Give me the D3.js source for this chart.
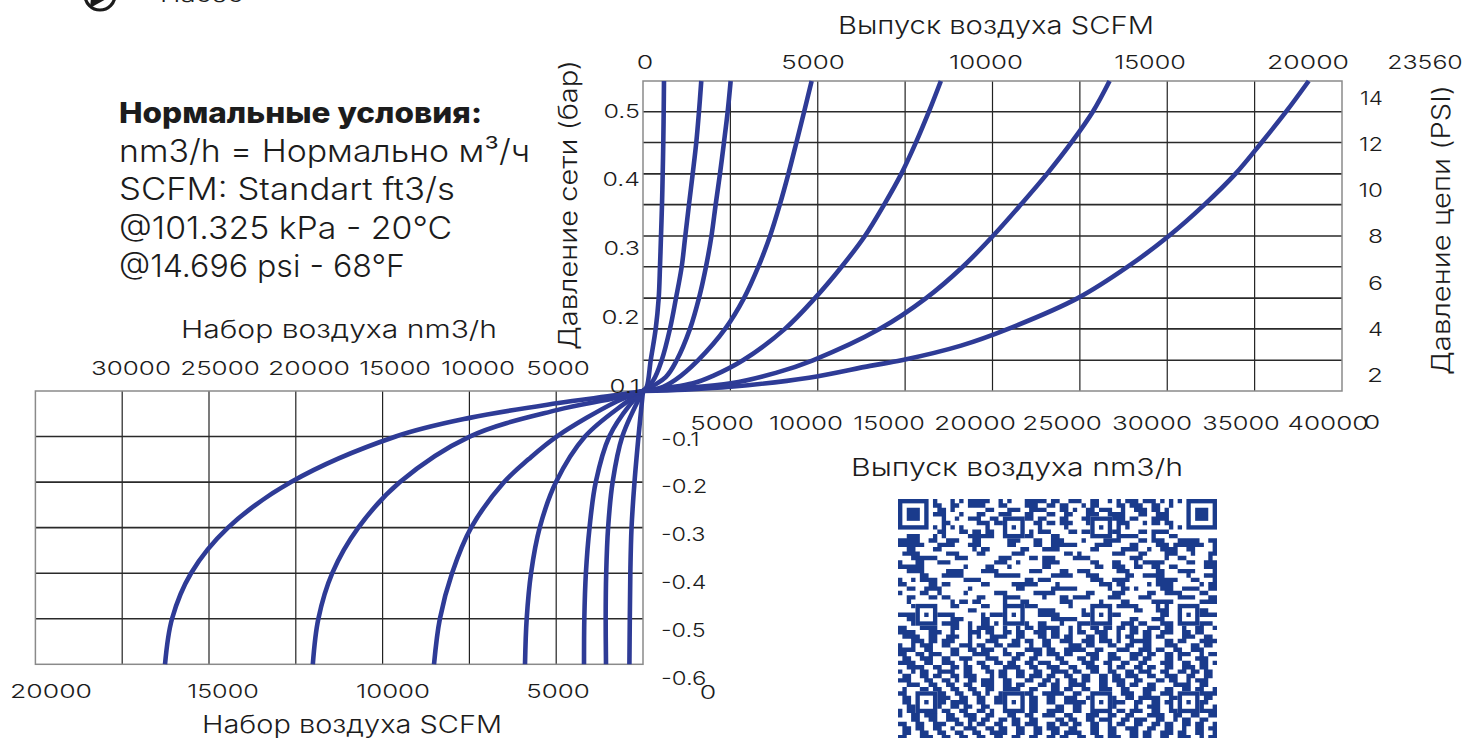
<!DOCTYPE html>
<html><head><meta charset="utf-8">
<script src="https://cdnjs.cloudflare.com/ajax/libs/d3/7.8.5/d3.min.js"></script>
<style>html,body{margin:0;padding:0;background:#fff;overflow:hidden}svg{display:block}text{font-family:Inter,"Noto Sans",sans-serif;font-weight:300;fill:#1c1c1c}</style>
</head><body><svg id="c" width="1462" height="738"></svg>
<script>
// ---- data ----
const outletLevels=[0.1,0.144,0.189,0.233,0.278,0.322,0.367,0.411,0.456,0.5,0.544];
const outletA=[0,440,726,898,972,1030,1087,1127,1161,1184,1201];
const outletB=[0,1070,1544,1888,2214,2420,2631,2843,3049,3203,3335];
const outletC=[0,1928,2688,3203,3604,3918,4158,4404,4633,4845,5016];
const outletD=[0,3146,4700,5780,6600,7270,7830,8320,8780,9220,9650];
const outletE=[0,5720,8122,9838,11366,12698,13800,14780,15620,16360,17046];
const outletF=[0,9724,13556,16200,18300,20020,21620,23120,24520,25740,26700];
const outletG=[0,14800,20900,24882,27742,30087,32130,33900,35400,36800,38095];
// extra readings between grid lines: [flow, bar]
const outletNear={A:[[200,0.105]],B:[[580,0.115]],C:[[1300,0.12]],D:[[940,0.104],[1850,0.116]],E:[[2860,0.111],[4035,0.122]],F:[[2170,0.104],[5016,0.111],[7600,0.126]],G:[[2400,0.102],[5016,0.106],[9500,0.119],[13000,0.136],[18200,0.165]]};
const inletLevels=[0,-0.1,-0.2,-0.3,-0.4,-0.5,-0.6];
const inletA=[0,260,490,660,730,760,783];
const inletB=[0,1192,1750,2010,2120,2150,2131];
const inletC=[0,1941,2720,3080,3290,3380,3398];
const inletD=[0,3341,5011,5950,6450,6700,6797];
const inletE=[0,4971,8000,9900,11000,11700,12038];
const inletF=[0,9982,14000,16400,17900,18700,19020];
const inletG=[0,14245,20275,23904,26035,27130,27533];
const inletNear={A:[],B:[],C:[[749,-0.03]],D:[[1152,-0.03]],E:[[1515,-0.023],[6600,-0.15]],F:[[1515,-0.015],[4971,-0.042]],G:[[1515,-0.009],[4971,-0.027],[9982,-0.059]]};
const curveNames=["A","B","C","D","E","F","G"];
const topScfmTicks=[0,5000,10000,15000,20000,23560];
const bottomNmTicks=[5000,10000,15000,20000,25000,30000,35000,40000];
const barPosTicks=[0.1,0.2,0.3,0.4,0.5];
const barNegTicks=[-0.1,-0.2,-0.3,-0.4,-0.5,-0.6];
const psiTicks=[0,2,4,6,8,10,12,14];
const inletNmTicks=[5000,10000,15000,20000,25000,30000];
const inletScfmTicks=[0,5000,10000,15000,20000];
const noteLines=["nm3/h = Нормально м³/ч","SCFM: Standart ft3/s","@101.325 kPa - 20°C","@14.696 psi - 68°F"];
const qrRows=[
"0000000010001010111110010100011111011001110011001010111011101010100000000",
"0000000011001100111100011000011100110110001011000011011100110010000000000",
"0000000001101000000011000111001111000110100110111001001110110100000000000",
"0000000011100010001100011100011000110011000111001111000110011100000000000",
"0000000000100100111001100110011011000110001100111111011000111100000000000",
"0000000000110000001110110000000110110111000110011011100010110110000000000",
"0000000010101010000010000010000010000010000010001010100000000010100000000",
"0000000001100011011011000000001011100001101101011110000110111100000000000",
"0011100010100000111111000011111000011000000011000011111000100011000000000",
"1111100110011100011000000111000110011100001000011110000110111000111110011",
"1111110001111000111000000110000110011111100001111000011000011101111111001",
"0011000011000000010110000000110001111000000011000001111001001111001100001",
"0111100000011100001100000011100000000011010000000111000110000111000100011",
"0001111110000111000000011100001101110000111100000000011100000100110000010",
"1000110001110000000000111001000001111000000011000110001011111000001100111",
"1111110000000001000011000100000001100000000001100111001100110011000000111",
"0011110000011110000111100000001110000110011100000011100000011000111100001",
"0000011000111110000000111111000000011111000111000000110011111000001000111",
"1001011110000001111000000000011011100000000011100111100000011111000110001",
"1100000110110000000110000011111100001000000000111011000001011110000001011",
"0011001111000000100000000001100000011111100000001001101000001110011110011",
"1000011001000001000000111000000111110000000110000111000001100111100001100",
"0011000110110000001100001111000001000110111100001110000111000000111100011",
"0010000000001011011000001000110000000111000000100001100000111110000001111",
"0001010000001100000110000001111100000001000000001011111000010100011100000",
"0000001110000000110000000110000011110000001011000000001100011100000111100",
"1111000011111000000101111000000011111000001100000110000000001100000001111",
"0011000000001110000110000111000000011111100000110000011000111000011000000",
"0001100110111100100110100001110011000100011100110001110110001110110001110",
"1100011110001100101111001001011011111001010011011011011001110110010011001",
"1111000111001000111011001101100111011001011001110010011011001110011011000",
"0111100110011100101001111001100011011011000110110010110011011000011100110",
"0001110110111000100011100011011001100111001110111010011111000110110001111",
"1001011100110011101100110111001001100001110110001100110011000111000110110",
"1111001100001100110111001000011110110011111001100011100111011001100111000",
"1100110111001100011110001101100110111011000111001100011101100110111001011",
"0110011100110011100011100011001100001100011011001110011011000110100011100",
"1111001100111001001100110110011011100110001110011001100110001110011001101",
"0011110011001101100110001111001100111001100111001011001101100110011101100",
"1001011001111001100011011001100110011110110011001100110111001100110110110",
"0110011011001101110001011001101110110011001100110110111001100111001100110",
"1110001100110100110111001100011001101001101100110111001100011011001011100",
"0011100110011001100111001101100011011001111000110011011001100001111001100",
"0100011011001100110011001111001100011011001100111001100011100110011011001",
"1100110011100110011010011011011001111100110001100001110011001110011001111",
"0110111001110011001100110111001100110011100111001100110111110011111000110",
"0110011001101111001100111000001100110011111000000111001100110110011001100",
"0011001011001101100110001111001100001100110011001100001001110010110011001",
"1011001100110011001101001110001100111100110001100011011100110011000001111",
"1001101110011001110011000110011001110011000111001100110001111001100110011",
"0001100110011100110110011011001100001101100110111001101110011001011001100",
"1100110011100110101100110011011100110110110011001011001100110110011011001",
"0110110011001001110011011001100110111001100011001100111001100110010011011",
"0110011001100110011001111001100110011011110011001100011011001110110011001",
"1100011100110011001100110011001100110110011001101110011011001100111001011"];
const qrAlign=[6,26,46,66];
const ink="#1c1c1c",curveColor="#2e3b96",qrColor="#1a3b8c";

// ---- scales ----
const xOut=d3.scaleLinear().domain([0,40000]).range([643,1342]);
const yOut=d3.scaleLinear().domain([0.1,0.544]).range([391,81]);
const xIn=d3.scaleLinear().domain([0,35000]).range([643,35.4]);
const yIn=d3.scaleLinear().domain([0,-0.6]).range([391,664.3]);
const svg=d3.select("#c");
const charW={"0":16.5,"1":8,".":6,"-":8,"2":16,"3":14,"4":15,"5":14,"6":15,"8":15};
const wid=s=>[...String(s)].reduce((a,c)=>a+(charW[c]||15),0);
function tick(x,y,s,anchor){
  svg.append("text").attr("x",x).attr("y",y).attr("font-size",19).attr("text-anchor",anchor||"middle")
   .attr("dominant-baseline","central").attr("textLength",wid(s)).attr("lengthAdjust","spacingAndGlyphs").text(s);
}
function lab(x,y,s,w,size,rot,weight){
  const t=svg.append("text").attr("font-size",size).attr("textLength",w).attr("lengthAdjust","spacingAndGlyphs").text(s);
  if(weight)t.style("font-weight",weight);
  if(rot)t.attr("transform",`translate(${x},${y}) rotate(-90)`);else t.attr("x",x).attr("y",y);
}
// ---- grids ----
function grid(g,xs,ys,xS,yS){
  const x0=xS.range()[0],x1=xS.range()[1],y0=yS.range()[0],y1=yS.range()[1];
  g.selectAll(".v").data(xs).join("line").attr("x1",d=>xS(d)).attr("x2",d=>xS(d)).attr("y1",y0).attr("y2",y1).attr("stroke","#222").attr("stroke-width",1.2);
  g.selectAll(".h").data(ys).join("line").attr("y1",d=>yS(d)).attr("y2",d=>yS(d)).attr("x1",x0).attr("x2",x1).attr("stroke","#2a2a2a").attr("stroke-width",1.6);
  g.append("rect").attr("x",Math.min(x0,x1)).attr("y",Math.min(y0,y1)).attr("width",Math.abs(x1-x0)).attr("height",Math.abs(y1-y0)).attr("fill","none").attr("stroke","#8a8a8a").attr("stroke-width",1.5);
}
grid(svg.append("g"),d3.range(5000,40000,5000),outletLevels.slice(1,-1),xOut,yOut);
grid(svg.append("g"),d3.range(5000,35000,5000),inletLevels.slice(1,-1),xIn,yIn);
// ---- curves ----
const outs={A:outletA,B:outletB,C:outletC,D:outletD,E:outletE,F:outletF,G:outletG};
const ins={A:inletA,B:inletB,C:inletC,D:inletD,E:inletE,F:inletF,G:inletG};
function pts(vals,levels,near){
  return [...vals.map((v,i)=>[v,levels[i]]),...near].sort((a,b)=>Math.abs(a[1]-levels[0])-Math.abs(b[1]-levels[0]));
}
const lineOut=d3.line().x(d=>xOut(d[0])).y(d=>yOut(d[1])).curve(d3.curveCatmullRom.alpha(0.5));
const lineIn=d3.line().x(d=>xIn(d[0])).y(d=>yIn(d[1])).curve(d3.curveCatmullRom.alpha(0.5));
curveNames.forEach(n=>{
  svg.append("path").attr("d",lineOut(pts(outs[n],outletLevels,outletNear[n]))).attr("fill","none").attr("stroke",curveColor).attr("stroke-width",4.6);
  svg.append("path").attr("d",lineIn(pts(ins[n],inletLevels,inletNear[n]))).attr("fill","none").attr("stroke",curveColor).attr("stroke-width",4.6);
});
// ---- tick labels (their own hand-placed ruler in the source) ----
const xTopLab=d3.scaleLinear().domain(topScfmTicks).range([645,813,986,1150,1308,1425]);
topScfmTicks.forEach(v=>tick(xTopLab(v),62,v));
const xBotLab=d3.scaleLinear().domain(bottomNmTicks).range([722,806,889,975,1062,1152,1241,1328]);
bottomNmTicks.forEach(v=>tick(xBotLab(v),423,v));
const yBarPos=d3.scaleLinear().domain([0.1,0.5]).range([386,111]);
barPosTicks.forEach(v=>tick(640,yBarPos(v),String(v),"end"));
const yBarNeg=d3.scaleLinear().domain([-0.1,-0.6]).range([439,678]);
barNegTicks.forEach(v=>tick(661,yBarNeg(v),String(v),"start"));
const yPsi=d3.scaleLinear().domain([0,14]).range([422,98]);
psiTicks.forEach(v=>{ if(v===0) tick(1372,yPsi(v),v); else tick(1383,yPsi(v),v,"end"); });
const xInLab=d3.scaleLinear().domain(inletNmTicks).range([558,478,395,309,220,131]);
inletNmTicks.forEach(v=>tick(xInLab(v),368,v));
const xInBot=d3.scaleLinear().domain(inletScfmTicks).range([708,558,393,223,51]);
inletScfmTicks.forEach(v=>tick(xInBot(v),v===0?692:691,v));
// ---- axis titles ----
lab(838,34,"Выпуск воздуха SCFM",316,24);
lab(181,338,"Набор воздуха nm3/h",316,24);
lab(851,476,"Выпуск воздуха nm3/h",332,24);
lab(202,733,"Набор воздуха SCFM",300,24);
lab(577,350,"Давление сети (бар)",290,25,true);
lab(1450,375,"Давление цепи (PSI)",290,25,true);
// ---- note ----
lab(119,123,"Нормальные условия:",363,29,false,800);
[[162,411],[200,336],[239,333],[277,286]].forEach((d,i)=>lab(119,d[0],noteLines[i],d[1],31));
// ---- clipped header ----
svg.append("circle").attr("cx",100).attr("cy",-5).attr("r",15).attr("fill","none").attr("stroke",ink).attr("stroke-width",3.2);
svg.append("path").attr("d",d3.line()([[90,8],[91,-2],[108,-2]])+"Z").attr("fill",ink);
lab(160,2,"Насос",83,22);
// ---- QR ----
const qx=d3.scaleLinear().domain([0,73]).range([898,1217]);
const qy=d3.scaleLinear().domain([0,73]).range([499,818]);
const m=qx(1)-qx(0);
const inBox=(i,j,c,r,n)=>i>=c&&i<c+n&&j>=r&&j<r+n;
const reserved=(i,j)=>inBox(i,j,0,0,8)||inBox(i,j,65,0,8)||qrAlign.some(c=>qrAlign.some(r=>!((c===6&&r===6)||(c===66&&r===6))&&inBox(i,j,c-2,r-2,5)));
const qp=d3.path();
qrRows.forEach((r,j)=>[...r].forEach((c,i)=>{ if(c==="1"&&i<73&&!reserved(i,j)) qp.rect(qx(i),qy(j),m,m); }));
const qg=svg.append("g").attr("fill",qrColor);
qg.append("path").attr("d",qp.toString());
function finder(c,r){
  qg.append("rect").attr("x",qx(c)+m/2).attr("y",qy(r)+m/2).attr("width",6*m).attr("height",6*m).attr("fill","none").attr("stroke",qrColor).attr("stroke-width",m);
  qg.append("rect").attr("x",qx(c+2)).attr("y",qy(r+2)).attr("width",3*m).attr("height",3*m);
}
finder(0,0);finder(66,0);
qrAlign.forEach(c=>qrAlign.forEach(r=>{
  if((c===6&&r===6)||(c===66&&r===6))return;
  qg.append("rect").attr("x",qx(c-2)+m/2).attr("y",qy(r-2)+m/2).attr("width",4*m).attr("height",4*m).attr("fill","none").attr("stroke",qrColor).attr("stroke-width",m);
  qg.append("rect").attr("x",qx(c)).attr("y",qy(r)).attr("width",m).attr("height",m);
}));
</script></body></html>
